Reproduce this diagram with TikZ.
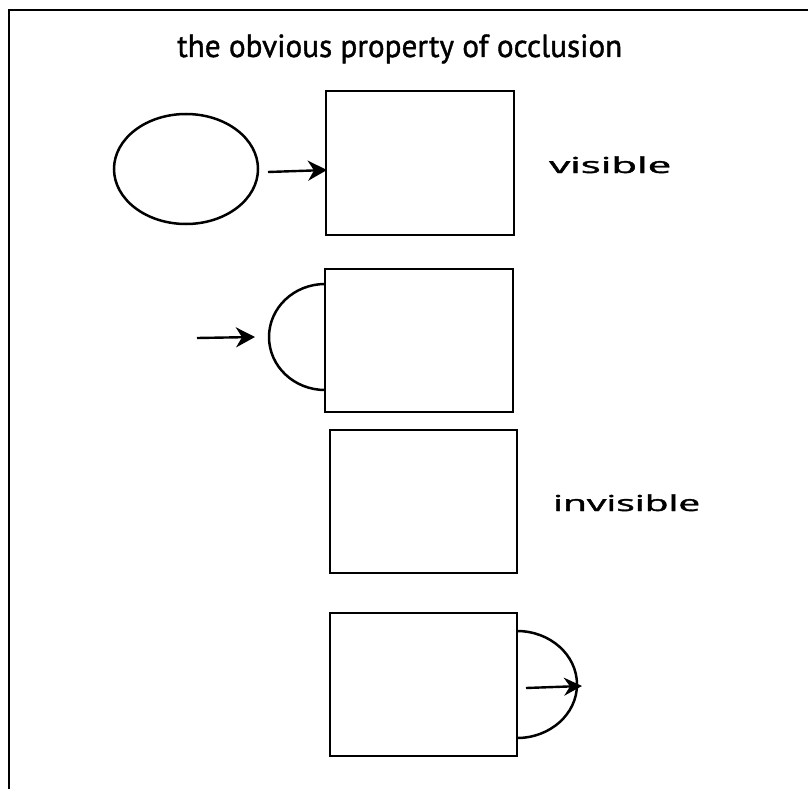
\documentclass[tikz,border=0pt]{standalone}
\usepackage{fontspec}
\usepackage{graphicx}
\setmainfont{Open Sans}[FakeBold=1.2]
\newfontfamily\titlefont{PT Sans}[FakeBold=1.2]
\usetikzlibrary{shapes.geometric,arrows.meta}
\tikzset{
  box/.style={draw, line width=2.5pt, minimum width=#1, inner sep=0pt},
  obj/.style={line width=2.5pt},
  arr/.style={line width=2.4pt, -{Stealth[length=19pt,width=20pt,inset=6pt]}},
  lab/.style={anchor=base west, inner sep=0pt, font=\fontsize{22}{22}\selectfont\addfontfeature{FakeBold=1.5}},
  ttl/.style={anchor=base west, inner sep=0pt, font=\titlefont\fontsize{32}{32}\selectfont}
}
\begin{document}
\begin{tikzpicture}[x=1pt,y=-1pt]
\useasboundingbox (0,0) rectangle (808,789);
\fill[white] (0,0) rectangle (808,789);
% frame (left and top edges visible)
\draw[line width=2.6pt] (9,789) -- (9,10) -- (808,10);
% title
\node[ttl] (title) at (177,57) {\resizebox{445pt}{\height}{the obvious property of occlusion}};
% boxes
\node[box=188pt, minimum height=144pt] (b1) at (420,163) {};
\node[box=188pt, minimum height=143pt] (b2) at (419,340.5) {};
\node[box=187pt, minimum height=143pt] (b3) at (423.5,501.5) {};
\node[box=187pt, minimum height=143pt] (b4) at (423.5,684.5) {};
% full ellipse
\node[draw, ellipse, obj, minimum width=144pt, minimum height=110pt, inner sep=0pt] (e1) at (186,169) {};
% half ellipses
\draw[obj] (325,284) arc[start angle=-90, end angle=-270, x radius=56, y radius=53];
\draw[obj] (517,631) arc[start angle=-90, end angle=90, x radius=60, y radius=53.5];
% arrows
\coordinate (a1s) at (268,172);
\coordinate (a1e) at (327,170);
\draw[arr] (a1s) -- (a1e);
\coordinate (a2s) at (197,338);
\coordinate (a2e) at (255,337);
\draw[arr] (a2s) -- (a2e);
\coordinate (a4s) at (526,688);
\coordinate (a4e) at (582,686);
\draw[arr, -{Stealth[length=18pt,width=18pt,inset=6pt]}] (a4s) -- (a4e);
% labels
\node[lab] (vis) at (549,173) {\resizebox{122pt}{\height}{visible}};
\node[lab] (invis) at (553,511) {\resizebox{147pt}{\height}{invisible}};
\end{tikzpicture}
\end{document}
